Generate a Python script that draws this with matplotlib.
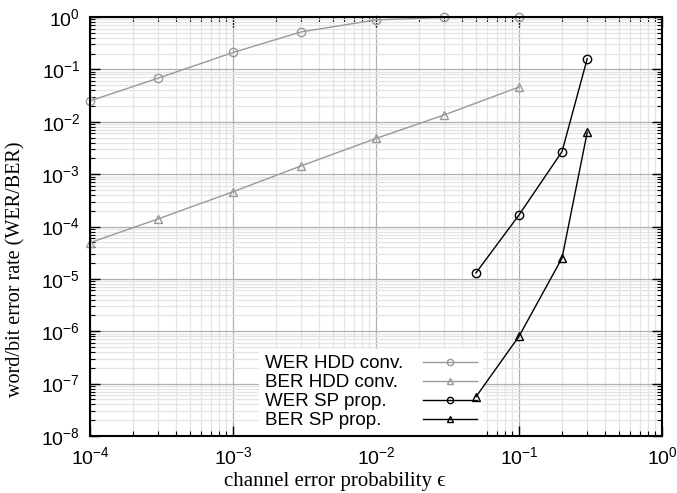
import numpy as np
import matplotlib
matplotlib.use('Agg')
import matplotlib.pyplot as plt
from matplotlib.ticker import LogLocator, FuncFormatter, NullFormatter

# data
eps_hdd = [1e-4, 3e-4, 1e-3, 3e-3, 1e-2, 3e-2, 1e-1]
wer_hdd = [0.025, 0.068, 0.21, 0.52, 0.88, 0.98, 0.99]
ber_hdd = [4.9e-5, 1.4e-4, 4.6e-4, 1.44e-3, 4.8e-3, 1.35e-2, 4.6e-2]

eps_sp = [0.05, 0.1, 0.2, 0.3]
wer_sp = [1.3e-5, 1.66e-4, 2.7e-3, 0.16]
ber_sp = [5.6e-8, 8.0e-7, 2.5e-5, 6.3e-3]

labels = ['WER HDD conv.', 'BER HDD conv.', 'WER SP prop.', 'BER SP prop.']

plt.rcParams['font.family'] = ['Liberation Sans', 'DejaVu Sans']
plt.rcParams['mathtext.fontset'] = 'custom'
plt.rcParams['mathtext.rm'] = 'Liberation Sans'

fig = plt.figure(figsize=(6.77, 4.93), dpi=100)
ax = fig.add_axes([90 / 677, 1 - 436 / 493, 572 / 677, 419 / 493])

gray = '#999999'
style = dict(lw=1.0, ms=6, mfc='none', mew=1.0, clip_on=False)
l1, = ax.plot(eps_hdd, wer_hdd, '-o', color=gray, **style)
l2, = ax.plot(eps_hdd, ber_hdd, '-^', color=gray, **style)
l3, = ax.plot(eps_sp, wer_sp, '-o', color='black', **style)
l4, = ax.plot(eps_sp, ber_sp, '-^', color='black', **style)
lines = [l1, l2, l3, l4]

ax.set_xscale('log')
ax.set_yscale('log')
ax.set_xlim(1e-4, 1)
ax.set_ylim(1e-8, 1)

ax.xaxis.set_major_locator(LogLocator(base=10, numticks=10))
ax.yaxis.set_major_locator(LogLocator(base=10, numticks=12))
ax.xaxis.set_minor_locator(LogLocator(base=10, subs=np.arange(2, 10), numticks=20))
ax.yaxis.set_minor_locator(LogLocator(base=10, subs=np.arange(2, 10), numticks=20))
fmt = FuncFormatter(lambda v, p: r'$\mathregular{10^{%d}}$' % round(np.log10(v)))
ax.xaxis.set_major_formatter(fmt)
ax.yaxis.set_major_formatter(fmt)
ax.xaxis.set_minor_formatter(NullFormatter())
ax.yaxis.set_minor_formatter(NullFormatter())

ax.grid(which='major', color='#b0b0b0', lw=0.9)
ax.grid(which='minor', color='#e4e4e4', lw=0.9)
ax.set_axisbelow(True)

ax.tick_params(which='both', direction='in', top=True, right=True, labelsize=14, pad=7)
ax.tick_params(which='major', length=7, width=1.0)
ax.tick_params(which='minor', length=3.5, width=0.8)
for s in ax.spines.values():
    s.set_linewidth(1.5)
    s.set_zorder(3)

serif = ['Liberation Serif', 'DejaVu Serif']
ax.set_xlabel('channel error probability \u03f5', family=serif, fontsize=15)
ax.set_ylabel('word/bit error rate (WER/BER)', family=serif, fontsize=14.5)
ax.xaxis.set_label_coords(0.428, -0.086)
ax.yaxis.set_label_coords(-0.113, 0.399)

# gnuplot-style key: left-aligned labels, samples to the right
fs = 13.5
leg_y = (436 - 392) / 419
leg1 = ax.legend(lines, labels, loc='center left', bbox_to_anchor=((259.4 - 90) / 572, leg_y),
                 frameon=True, fancybox=False, facecolor='white', framealpha=1.0, fontsize=fs,
                 handlelength=0, handletextpad=0, labelspacing=0.1, borderpad=0.3,
                 borderaxespad=0)
leg1.get_frame().set_linewidth(0)
for h in leg1.legend_handles:
    h.set_visible(False)
leg1.set_zorder(1.5)
ax.add_artist(leg1)

leg2 = ax.legend(lines, [' '] * 4, loc='center left', bbox_to_anchor=((405 - 90) / 572, leg_y),
                 frameon=True, fancybox=False, facecolor='white', framealpha=1.0, fontsize=fs,
                 markerfirst=False, handlelength=2.88, handletextpad=0.38, labelspacing=0.1,
                 borderpad=0.3, borderaxespad=0, markerscale=0.75)
leg2.get_frame().set_linewidth(0)
leg2.set_zorder(1.5)

fig.savefig('out.png', dpi=100)
